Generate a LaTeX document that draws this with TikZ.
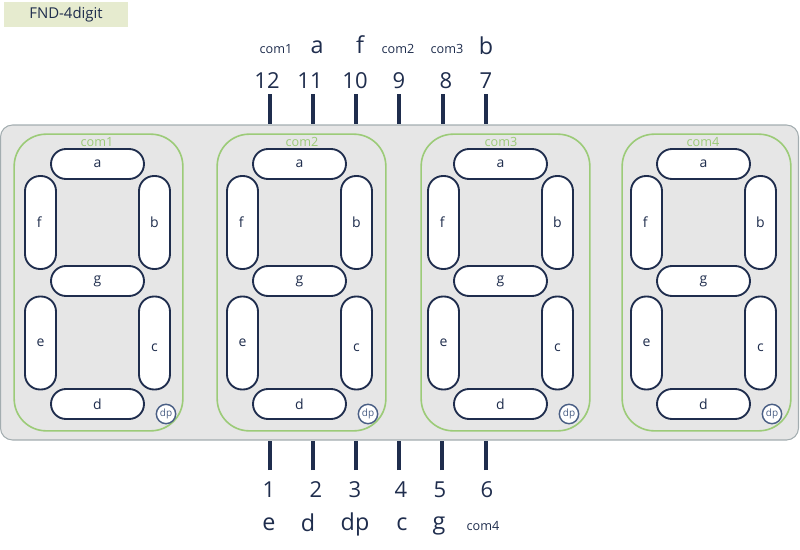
\documentclass[tikz,border=0pt]{standalone}
\usepackage{fontspec}
\setmainfont{Open Sans}
\usetikzlibrary{positioning}
\definecolor{navy}{HTML}{1F2D4D}
\definecolor{boardgray}{HTML}{E6E6E6}
\definecolor{boardline}{HTML}{A3ADB0}
\definecolor{framegreen}{HTML}{9CCB78}
\definecolor{titlegreen}{HTML}{E6EBCF}
\definecolor{dpblue}{HTML}{4A5F85}
\begin{document}
\begin{tikzpicture}[x=0.75pt, y=-0.75pt, font=\fontsize{9.3pt}{11pt}\selectfont, text=navy]

\tikzset{
  hseg/.style={draw=navy, fill=white, rounded corners=11.25pt, line width=1.4pt, minimum width=69.75pt, minimum height=22.5pt, inner sep=0pt, font=\fontsize{10.5pt}{12pt}\selectfont},
  vseg/.style={draw=navy, fill=white, rounded corners=11.25pt, line width=1.4pt, minimum width=23.25pt, minimum height=69.75pt, inner sep=0pt, font=\fontsize{10.5pt}{12pt}\selectfont},
  dpdot/.style={circle, draw=dpblue, fill=white, line width=1.1pt, minimum size=14.5pt, inner sep=0pt, text=dpblue, font=\fontsize{7.5pt}{8pt}\selectfont},
  frm/.style={draw=framegreen, rounded corners=24pt, line width=1.2pt, minimum width=126.5pt, minimum height=222.5pt, inner sep=0pt},
  comlbl/.style={text=framegreen, inner sep=0pt, font=\fontsize{9.5pt}{11pt}\selectfont},
  pin/.style={draw=navy, line width=3pt},
  num/.style={inner sep=0pt, font=\fontsize{16.5pt}{18pt}\selectfont},
  sig/.style={inner sep=0pt, font=\fontsize{17.5pt}{19pt}\selectfont},
  com/.style={inner sep=0pt, font=\fontsize{9.5pt}{11pt}\selectfont},
}

\useasboundingbox (0,0) rectangle (800,550);

\node[fill=titlegreen, minimum width=93pt, minimum height=18.75pt, inner sep=0pt, font=\fontsize{11.2pt}{13pt}\selectfont] (title) at (66,14.5) {FND-4digit};

\node[draw=boardline, fill=boardgray, rounded corners=9pt, line width=0.8pt, minimum width=598.5pt, minimum height=236.25pt, inner sep=0pt] (board) at (399.5,282.5) {};

\foreach \d/\o/\f/\l in {1/0/0/97, 2/202/203/302, 3/403/407/501, 4/606/608/703} {
  \node[frm] (frame\d) at (98.5+\f,282.5) {};
  \node[comlbl] (com\d) at (\l,142) {com\d};
  \node[hseg] (a\d) at (97.5+\o,164) {a};
  \node[vseg] (f\d) at (40.5+\o,222.5) {\hspace{-2pt}f};
  \node[vseg] (b\d) at (154.5+\o,222.5) {b};
  \node[hseg] (g\d) at (97.5+\o,281) {g};
  \node[vseg] (e\d) at (40.5+\o,343) {e};
  \node[vseg, label={[inner sep=0pt, yshift=-3.5pt, font=\fontsize{10.5pt}{12pt}\selectfont]center:c}] (c\d) at (154.5+\o,343) {};
  \node[hseg] (d\d) at (97.5+\o,404) {d};
  \node[dpdot] (dp\d) at (166+\o,414) {dp};
}

\coordinate (p12) at (270,94);
\coordinate (p11) at (313,94);
\coordinate (p10) at (356,94);
\coordinate (p9) at (399,94);
\coordinate (p8) at (443,94);
\coordinate (p7) at (486,94);
\coordinate (p1) at (270,470);
\coordinate (p2) at (313,470);
\coordinate (p3) at (356,470);
\coordinate (p4) at (399,470);
\coordinate (p5) at (442,470);
\coordinate (p6) at (486,470);

\foreach \p in {12,11,10,9,8,7} {
  \draw[pin] (p\p) -- (p\p |- board.north);
}
\foreach \p in {1,2,3,4,5,6} {
  \draw[pin] (p\p) -- (p\p |- board.south);
}

\node[num] (n12) at (267,81) {12};
\node[num] (n11) at (310,81) {11};
\node[num] (n10) at (355,81) {10};
\node[num] (n9) at (399,81) {9};
\node[num] (n8) at (446,81) {8};
\node[num] (n7) at (486,81) {7};
\node[num] (n1) at (269,490) {1};
\node[num] (n2) at (316,490) {2};
\node[num] (n3) at (355,490) {3};
\node[num] (n4) at (401,490) {4};
\node[num] (n5) at (440,490) {5};
\node[num] (n6) at (487,490) {6};

\node[com] (t12) at (276,49) {com1};
\node[sig] (t11) at (317,47) {a};
\node[sig] (t10) at (360,45) {f};
\node[com] (t9) at (398,49) {com2};
\node[com] (t8) at (447,49) {com3};
\node[sig] (t7) at (486,46) {b};
\node[sig] (t1) at (269,524) {e};
\node[sig] (t2) at (308,523) {d};
\node[sig] (t3) at (355,524) {dp};
\node[sig] (t4) at (402,524) {c};
\node[sig] (t5) at (439,526) {g};
\node[com] (t6) at (483,526) {com4};

\end{tikzpicture}
\end{document}
